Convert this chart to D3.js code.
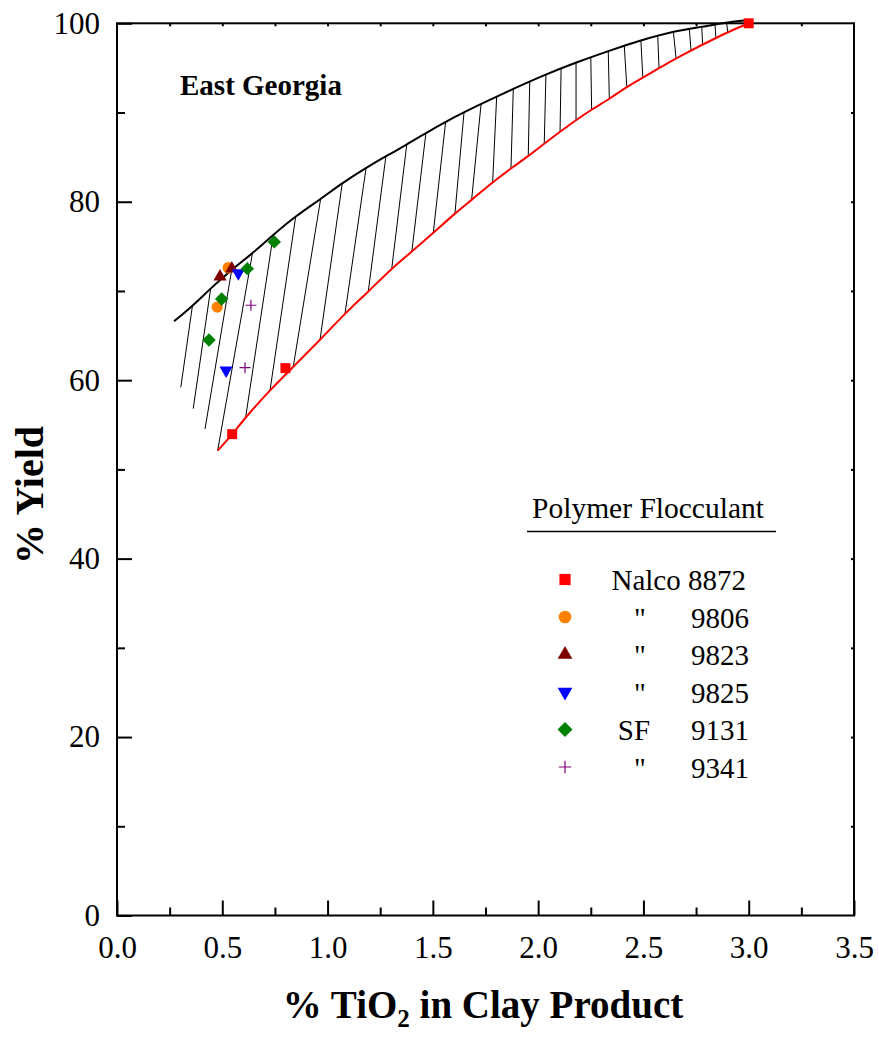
<!DOCTYPE html>
<html>
<head>
<meta charset="utf-8">
<script src="https://cdn.jsdelivr.net/npm/d3@7"></script>
<style>
  body { margin: 0; background: #fff; }
  svg text { font-family: "Liberation Serif", "Times New Roman", serif; fill: #000; }
</style>
</head>
<body>
<div class="chart"></div>
<script>
// chart data

// upper boundary of the band (black)
var upperX = [0.271, 0.358, 0.445, 0.545, 0.643, 0.742, 0.849, 0.967, 1.070, 1.183, 1.277, 1.376,
    1.467, 1.561, 1.724, 1.803, 2.037, 2.180, 2.333, 2.488, 2.642, 2.777, 2.895, 2.996];
var upperY = [66.6, 68.3, 70.3, 72.4, 74.2, 76.3, 78.4, 80.3, 82.1, 83.8, 85.1, 86.4,
    87.7, 89.0, 90.9, 91.8, 94.3, 95.6, 96.9, 98.1, 99.1, 99.6, 100.1, 100.35];

// lower boundary of the band (red)
var lowerX = [0.478, 0.548, 0.611, 0.727, 0.837, 0.964, 1.083, 1.193, 1.305, 1.400, 1.502, 1.605,
    1.684, 1.787, 1.871, 1.953, 2.029, 2.104, 2.180, 2.254, 2.338, 2.421, 2.574, 2.655, 2.900, 3.0];
var lowerY = [52.1, 53.95, 55.85, 58.9, 61.5, 64.5, 67.5, 69.9, 72.55, 74.4, 76.5, 78.7,
    80.2, 82.25, 83.75, 85.1, 86.5, 87.85, 89.15, 90.35, 91.5, 92.9, 94.95, 96.1, 99.05, 100];

// hatch lines: x where each one leaves the upper curve and where it ends below
var hatchTopX = [0.358, 0.445, 0.545, 0.643, 0.742, 0.849, 0.967, 1.070, 1.183, 1.277, 1.376, 1.467,
    1.561, 1.648, 1.729, 1.803, 1.882, 1.960, 2.037, 2.109, 2.180, 2.250, 2.333, 2.409, 2.488,
    2.568, 2.642, 2.718, 2.777, 2.840, 2.895];
var hatchBotX = [0.303, 0.362, 0.418, 0.478, 0.611, 0.727, 0.837, 0.964, 1.083, 1.193, 1.305, 1.400,
    1.502, 1.605, 1.684, 1.784, 1.871, 1.953, 2.029, 2.104, 2.180, 2.254, 2.338, 2.421, 2.497,
    2.574, 2.655, 2.726, 2.781, 2.844, 2.900];
// the short lines left of the red curve end on this line
var hatchBaseX = [0.303];
var hatchBaseY = [59.2];

// polymer flocculants
var labelsA = ["Nalco", "\"", "\"", "\"", "SF", "\""];
var labelsB = ["8872", "9806", "9823", "9825", "9131", "9341"];
var colors = ["#ff0000", "#ff8000", "#800000", "#0000ff", "#008000", "#800080"];
var shapes = ["square", "circle", "up", "down", "diamond", "plus"];

var nalco8872 = [[0.547, 53.95], [0.80, 61.35], [3.0, 100]];
var nalco9806 = [[0.476, 68.2], [0.528, 72.6]];
var nalco9823 = [[0.489, 71.6], [0.545, 72.5]];
var nalco9825 = [[0.576, 72.0], [0.518, 61.1]];
var sf9131 = [[0.747, 75.5], [0.619, 72.5], [0.497, 69.1], [0.437, 64.5]];
var sf9341 = [[0.636, 68.4], [0.608, 61.4]];
var seriesPoints = [nalco8872, nalco9806, nalco9823, nalco9825, sf9131, sf9341];

var xTicks = [0, 0.5, 1.0, 1.5, 2.0, 2.5, 3.0, 3.5];
var yTicks = [0, 20, 40, 60, 80, 100];

// chart area
var svgWidth = 879;
var svgHeight = 1038;

var margin = { top: 23.3, right: 25, bottom: 122.5, left: 117 };
var width = svgWidth - margin.left - margin.right;
var height = svgHeight - margin.top - margin.bottom;

var svg = d3.select(".chart")
    .append("svg")
    .attr("width", svgWidth)
    .attr("height", svgHeight);

var chartGroup = svg.append("g")
    .attr("transform", `translate(${margin.left}, ${margin.top})`);

var x = d3.scaleLinear().domain([0, 3.5]).range([0, width]);
var y = d3.scaleLinear().domain([0, 100]).range([height, 0]);

// piecewise scales to find where hatch lines touch the curves
var upperAt = d3.scaleLinear().domain(upperX).range(upperY);
var lowerAt = d3.scaleLinear().domain(hatchBaseX.concat(lowerX)).range(hatchBaseY.concat(lowerY));

// hatching
chartGroup.append("g")
    .selectAll("line")
    .data(hatchTopX)
    .enter()
    .append("line")
    .attr("x1", d => x(d))
    .attr("y1", d => y(upperAt(d)))
    .attr("x2", (d, i) => x(hatchBotX[i]))
    .attr("y2", (d, i) => y(lowerAt(hatchBotX[i])))
    .attr("stroke", "#000")
    .attr("stroke-width", 1);

var line = d3.line()
    .x(d => x(d[0]))
    .y(d => y(d[1]))
    .curve(d3.curveBasis);

chartGroup.append("path")
    .datum(d3.zip(upperX, upperY))
    .attr("d", line)
    .attr("fill", "none")
    .attr("stroke", "#000")
    .attr("stroke-width", 2);

chartGroup.append("path")
    .datum(d3.zip(lowerX, lowerY))
    .attr("d", line)
    .attr("fill", "none")
    .attr("stroke", "#ff0000")
    .attr("stroke-width", 2);

// axes
function styleAxis(g) {
    g.select(".domain").remove();
    g.selectAll("line").attr("stroke-width", 2);
    g.selectAll("text").attr("font-size", "31px").attr("font-family", "Liberation Serif, Times New Roman, serif");
}

chartGroup.append("g")
    .attr("transform", `translate(0, ${height})`)
    .call(d3.axisBottom(x).tickValues(d3.range(0.25, 3.5, 0.5)).tickSize(-8).tickFormat(""))
    .call(styleAxis);

chartGroup.append("g")
    .attr("transform", `translate(0, ${height})`)
    .call(d3.axisBottom(x).tickValues(xTicks).tickSize(-15).tickPadding(20).tickFormat(d3.format(".1f")))
    .call(styleAxis);

chartGroup.append("g")
    .call(d3.axisLeft(y).tickValues(d3.range(10, 100, 20)).tickSize(-8).tickFormat(""))
    .call(styleAxis);

chartGroup.append("g")
    .call(d3.axisLeft(y).tickValues(yTicks).tickSize(-15).tickPadding(17).tickFormat(d3.format("d")))
    .call(styleAxis);

chartGroup.append("g")
    .call(d3.axisTop(x).tickValues(d3.range(0.25, 3.5, 0.25)).tickSize(-3).tickFormat(""))
    .call(styleAxis);

chartGroup.append("g")
    .attr("transform", `translate(${width}, 0)`)
    .call(d3.axisRight(y).tickValues(d3.range(10, 100, 10)).tickSize(-3).tickFormat(""))
    .call(styleAxis);

chartGroup.append("rect")
    .attr("width", width)
    .attr("height", height)
    .attr("fill", "none")
    .attr("stroke", "#000")
    .attr("stroke-width", 2);

// markers
function drawMarker(g, shape, color, big) {
    var k = big ? 1.12 : 1;
    if (shape === "plus") {
        var h = 5.5 * k;
        g.append("path")
            .attr("d", `M${-h},0H${h}M0,${-h}V${h}`)
            .attr("stroke", color)
            .attr("stroke-width", 1.2)
            .attr("fill", "none");
        return;
    }
    var sym;
    var size;
    var rot = 0;
    if (shape === "square") { sym = d3.symbolSquare; size = 100; }
    else if (shape === "circle") { sym = d3.symbolCircle; size = 100; }
    else if (shape === "up") { sym = d3.symbolTriangle; size = 75; }
    else if (shape === "down") { sym = d3.symbolTriangle; size = 75; rot = 180; }
    else { sym = d3.symbolSquare; size = 90; rot = 45; }
    g.append("path")
        .attr("d", d3.symbol().type(sym).size(size * k * k)())
        .attr("transform", `rotate(${rot})`)
        .attr("fill", color);
}

seriesPoints.forEach(function(pts, i) {
    pts.forEach(function(p) {
        var g = chartGroup.append("g")
            .attr("transform", `translate(${x(p[0])}, ${y(p[1])})`);
        drawMarker(g, shapes[i], colors[i], false);
    });
});

// annotation
chartGroup.append("text")
    .attr("x", 180 - margin.left)
    .attr("y", 95 - margin.top)
    .attr("font-size", "29px")
    .attr("font-weight", "bold")
    .text("East Georgia");

// legend
var legend = svg.append("g");

legend.append("text")
    .attr("x", 648)
    .attr("y", 518)
    .attr("text-anchor", "middle")
    .attr("font-size", "29.5px")
    .text("Polymer Flocculant");

legend.append("line")
    .attr("x1", 527)
    .attr("x2", 776)
    .attr("y1", 531.5)
    .attr("y2", 531.5)
    .attr("stroke", "#000")
    .attr("stroke-width", 1.5);

labelsB.forEach(function(lab, i) {
    var cy = 579.5 + i * 37.5;
    var g = legend.append("g").attr("transform", `translate(565, ${cy})`);
    drawMarker(g, shapes[i], colors[i], true);
    if (i === 0) {
        legend.append("text")
            .attr("x", 611.5)
            .attr("y", cy + 10.5)
            .attr("font-size", "29px")
            .text(labelsA[i] + " " + lab);
    } else {
        legend.append("text")
            .attr("x", labelsA[i] === "SF" ? 634 : 640)
            .attr("y", cy + 10.5)
            .attr("text-anchor", "middle")
            .attr("font-size", "29px")
            .text(labelsA[i]);
        legend.append("text")
            .attr("x", 749)
            .attr("y", cy + 10.5)
            .attr("text-anchor", "end")
            .attr("font-size", "29px")
            .text(lab);
    }
});

// axis titles
svg.append("text")
    .attr("transform", "translate(43, 495) rotate(-90)")
    .attr("text-anchor", "middle")
    .attr("font-size", "40px")
    .attr("font-weight", "bold")
    .text("% Yield");

var xTitle = svg.append("text")
    .attr("x", 483)
    .attr("y", 1018)
    .attr("text-anchor", "middle")
    .attr("font-size", "39px")
    .attr("font-weight", "bold");
xTitle.append("tspan").text("% TiO");
xTitle.append("tspan").attr("font-size", "25px").attr("dy", 9).text("2");
xTitle.append("tspan").attr("dy", -9).text(" in Clay Product");
</script>
</body>
</html>
